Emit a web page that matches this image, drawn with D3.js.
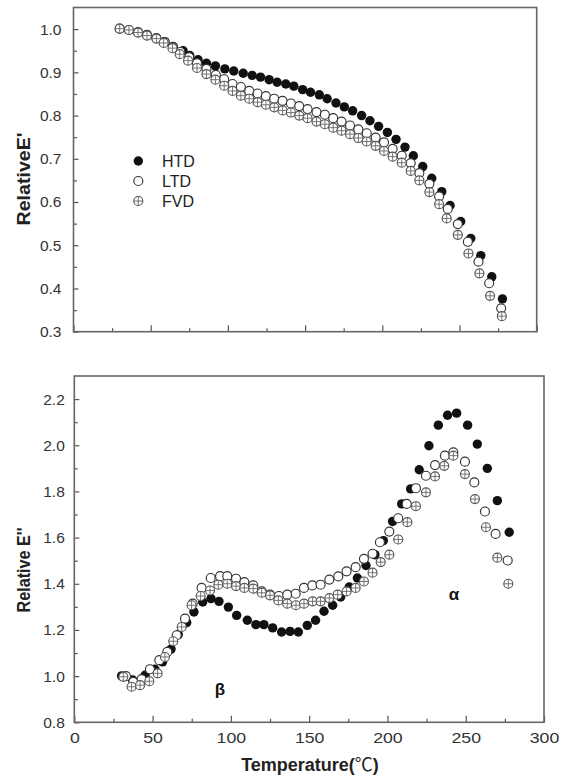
<!DOCTYPE html>
<html><head><meta charset="utf-8">
<script src="https://cdn.jsdelivr.net/npm/d3@7/dist/d3.min.js"></script>
<style>body{margin:0;background:#fff}</style>
</head><body>
<svg id="c" width="565" height="781"></svg>
<script>
// ---------- DATA: top panel (Relative E') ----------
const htdTopT = [29.9,35.9,41.8,47.6,53.7,59.1,64.5,71.0,75.3,80.7,86.1,91.9,98.0,103.8,109.9,115.7,121.1,126.7,131.9,137.5,142.7,148.4,153.5,159.2,164.3,170.0,175.4,180.8,186.6,192.0,197.6,203.3,208.9,214.7,220.1,226.2,232.0,238.5,243.9,250.8,257.3,263.8,270.9,277.8];
const htdTopE = [1.001,0.998,0.993,0.987,0.979,0.971,0.960,0.950,0.939,0.929,0.921,0.915,0.908,0.903,0.898,0.893,0.889,0.883,0.877,0.873,0.868,0.860,0.854,0.848,0.839,0.829,0.820,0.811,0.800,0.788,0.775,0.761,0.745,0.727,0.707,0.682,0.655,0.624,0.592,0.555,0.516,0.476,0.427,0.376];
const ltdTopT = [29.9,35.9,41.8,47.6,53.7,59.1,64.5,69.2,74.9,80.0,86.1,92.2,97.6,103.0,108.4,113.8,119.2,124.6,130.0,135.4,140.8,146.2,151.6,157.4,162.8,168.2,173.6,179.1,184.5,189.9,195.7,201.1,206.7,212.6,218.4,224.0,230.5,236.8,242.4,248.9,255.4,262.3,269.2,277.0];
const ltdTopE = [1.001,0.998,0.993,0.987,0.979,0.970,0.958,0.947,0.935,0.921,0.908,0.894,0.884,0.873,0.866,0.857,0.851,0.845,0.839,0.834,0.828,0.822,0.815,0.808,0.802,0.794,0.786,0.777,0.768,0.759,0.749,0.738,0.723,0.707,0.690,0.667,0.642,0.613,0.584,0.549,0.508,0.462,0.412,0.354];
const fvdTopT = [29.9,35.9,41.8,47.6,53.7,58.4,64.1,68.8,74.2,80.0,86.1,91.9,97.6,103.0,108.4,113.8,119.2,124.6,130.0,135.4,140.8,146.2,151.6,157.4,162.8,168.2,173.6,179.1,184.5,189.9,195.7,201.1,206.7,212.6,218.4,224.0,230.5,236.8,241.7,248.9,255.8,262.9,269.8,277.4];
const fvdTopE = [1.001,0.998,0.992,0.985,0.978,0.968,0.956,0.942,0.927,0.910,0.896,0.883,0.869,0.857,0.846,0.839,0.831,0.825,0.819,0.812,0.807,0.800,0.794,0.786,0.780,0.772,0.765,0.757,0.748,0.740,0.730,0.718,0.705,0.691,0.672,0.650,0.623,0.595,0.562,0.524,0.481,0.435,0.383,0.336];

// ---------- DATA: bottom panel (Relative E'') ----------
const htdBotT = [30.2,37.3,45.2,51.5,56.4,61.8,66.4,71.8,76.4,82.0,87.3,92.4,98.4,103.7,110.5,116.0,121.1,126.7,132.4,137.8,143.1,148.8,154.1,159.5,165.0,170.1,175.6,180.8,186.3,192.0,197.4,203.3,209.1,214.8,220.3,226.5,232.5,238.4,244.2,251.2,257.4,263.8,270.2,277.8];
const htdBotE = [1.001,0.983,1.004,1.030,1.062,1.117,1.180,1.232,1.278,1.321,1.336,1.324,1.299,1.263,1.242,1.223,1.223,1.209,1.191,1.194,1.191,1.220,1.242,1.281,1.307,1.343,1.386,1.425,1.479,1.526,1.587,1.670,1.746,1.811,1.894,1.998,2.087,2.130,2.139,2.087,2.005,1.900,1.760,1.623];
const ltdBotT = [33.0,37.7,43.0,48.3,54.3,59.4,65.4,70.7,75.6,81.3,87.1,93.1,97.7,103.3,108.6,114.3,119.7,125.0,130.7,136.0,141.4,146.7,152.0,157.3,162.9,168.6,173.9,179.7,185.0,190.5,195.2,201.2,206.9,212.3,218.2,224.6,230.4,236.7,242.1,249.5,255.5,262.3,269.1,276.8];
const ltdBotE = [1.000,0.975,0.987,1.030,1.069,1.105,1.177,1.249,1.314,1.382,1.425,1.433,1.433,1.422,1.407,1.393,1.367,1.353,1.347,1.353,1.357,1.382,1.393,1.396,1.418,1.432,1.454,1.472,1.508,1.530,1.580,1.626,1.684,1.746,1.814,1.868,1.914,1.955,1.969,1.929,1.839,1.713,1.616,1.501];
const fvdBotT = [31.3,36.6,42.0,47.9,53.2,57.9,63.2,68.6,74.9,80.7,86.7,92.0,97.7,103.3,108.6,114.3,119.7,125.0,130.3,136.0,141.6,146.7,152.2,157.3,162.9,168.2,173.9,179.7,185.0,190.5,195.7,201.2,206.9,212.7,218.2,224.6,230.4,236.3,242.1,249.5,255.9,262.9,270.2,277.2];
const fvdBotE = [0.997,0.954,0.961,0.978,1.012,1.083,1.151,1.213,1.307,1.347,1.371,1.396,1.400,1.390,1.382,1.379,1.361,1.350,1.328,1.314,1.307,1.314,1.324,1.324,1.338,1.353,1.367,1.382,1.410,1.448,1.494,1.526,1.592,1.667,1.736,1.796,1.865,1.911,1.955,1.875,1.767,1.645,1.513,1.400];

// ---------- tick labels / categories ----------
const seriesNames = ["HTD","LTD","FVD"];
const xTicks = [0,50,100,150,200,250,300];
const xMinorTicks = [25,75,125,175,225,275];
const yTicksTop = [0.3,0.4,0.5,0.6,0.7,0.8,0.9,1.0];
const yMinorTop = [0.35,0.45,0.55,0.65,0.75,0.85,0.95];
const yTicksBot = [0.8,1.0,1.2,1.4,1.6,1.8,2.0,2.2];
const yMinorBot = [0.9,1.1,1.3,1.5,1.7,1.9,2.1];
const annotations = [{t:"β", x:93, y:0.918},{t:"α", x:242.5, y:1.328}];

const FONT = "'Liberation Sans', Arial, Helvetica, sans-serif";
const svg = d3.select('#c');
svg.append('rect').attr('width',565).attr('height',781).attr('fill','#fff');

function zip(T,E){ return T.map((t,i)=>({x:t,y:E[i]})); }

function drawMarker(g, type, cx, cy){
  const r = 4.5;
  if(type==="HTD"){
    g.append('circle').attr('cx',cx).attr('cy',cy).attr('r',4.7).attr('fill','#111');
  } else if(type==="LTD"){
    g.append('circle').attr('cx',cx).attr('cy',cy).attr('r',r).attr('fill','#fff').attr('stroke','#333').attr('stroke-width',1.15);
  } else {
    g.append('circle').attr('cx',cx).attr('cy',cy).attr('r',r).attr('fill','#fff').attr('stroke','#555').attr('stroke-width',1.15);
    g.append('line').attr('x1',cx-r).attr('x2',cx+r).attr('y1',cy).attr('y2',cy).attr('stroke','#666').attr('stroke-width',0.9);
    g.append('line').attr('x1',cx).attr('x2',cx).attr('y1',cy-r).attr('y2',cy+r).attr('stroke','#666').attr('stroke-width',0.9);
  }
}

function panel(cfg){
  const x = d3.scaleLinear().domain([0,300]).range([cfg.left,cfg.right]);
  const y = d3.scaleLinear().domain(cfg.ydom).range([cfg.bottom,cfg.top]);
  const g = svg.append('g');

  const xa = d3.axisBottom(x).tickValues(xTicks).tickSize(-6.5).tickPadding(10)
      .tickFormat(cfg.xLabels ? d3.format('d') : '');
  const xg = g.append('g').attr('transform',`translate(0,${cfg.bottom})`).call(xa);
  const xm = g.append('g').attr('transform',`translate(0,${cfg.bottom})`)
      .call(d3.axisBottom(x).tickValues(xMinorTicks).tickSize(-3.5).tickFormat(''));
  const ya = d3.axisLeft(y).tickValues(cfg.yTicks).tickSize(-5).tickPadding(cfg.ypad).tickFormat(d3.format('.1f'));
  const yg = g.append('g').attr('transform',`translate(${cfg.left},0)`).call(ya);
  const ym = g.append('g').attr('transform',`translate(${cfg.left},0)`)
      .call(d3.axisLeft(y).tickValues(cfg.yMinor).tickSize(-3.5).tickFormat(''));
  [xg,xm,yg,ym].forEach(a=>{
    a.select('.domain').remove();
    a.selectAll('line').attr('stroke','#555').attr('stroke-width',1.2);
  });
  xg.selectAll('text').attr('font-family',FONT).attr('font-size',15).attr('fill','#333')
    .attr('transform','scale(1.18,1)');
  yg.selectAll('text').attr('font-family',FONT).attr('font-size',15.5).attr('fill','#333');

  g.append('rect').attr('x',cfg.left).attr('y',cfg.top)
    .attr('width',cfg.right-cfg.left).attr('height',cfg.bottom-cfg.top)
    .attr('fill','none').attr('stroke','#666').attr('stroke-width',1.6);

  const marks = g.append('g');
  cfg.series.forEach(s=>{
    s.data.forEach(d=> drawMarker(marks, s.name, x(d.x), y(d.y)));
  });

  g.append('text').attr('transform',`translate(${cfg.ytx},${cfg.yty}) rotate(-90)`)
    .attr('text-anchor','middle').attr('dominant-baseline','central')
    .attr('font-family',FONT).attr('font-weight','bold').attr('font-size',18).attr('fill','#222')
    .attr('textLength',cfg.ytLen).attr('lengthAdjust','spacingAndGlyphs')
    .text(cfg.ytitle);
  return {x,y,g};
}

const topPanel = panel({
  left:73.5, right:536.7, top:7.5, bottom:331.7, ydom:[0.3,1.05],
  yTicks:yTicksTop, yMinor:yMinorTop, ypad:12, xLabels:false,
  ytitle:"RelativeE'", ytx:24, yty:179, ytLen:93,
  series:[{name:"HTD",data:zip(htdTopT,htdTopE)},{name:"LTD",data:zip(ltdTopT,ltdTopE)},{name:"FVD",data:zip(fvdTopT,fvdTopE)}]
});
const botPanel = panel({
  left:74.3, right:544, top:376, bottom:722.3, ydom:[0.8,2.3],
  yTicks:yTicksBot, yMinor:yMinorBot, ypad:9.5, xLabels:true,
  ytitle:"Relative E''", ytx:24, yty:570, ytLen:85,
  series:[{name:"HTD",data:zip(htdBotT,htdBotE)},{name:"LTD",data:zip(ltdBotT,ltdBotE)},{name:"FVD",data:zip(fvdBotT,fvdBotE)}]
});

const lg = svg.append('g');
seriesNames.forEach((n,i)=>{
  drawMarker(lg, n, 138.3, 161 + i*20);
  lg.append('text').attr('x',162).attr('y',166.7 + i*20)
    .attr('font-family',FONT).attr('font-size',16).attr('fill','#222').text(n);
});

annotations.forEach(a=>{
  botPanel.g.append('text').attr('x',botPanel.x(a.x)).attr('y',botPanel.y(a.y))
    .attr('text-anchor','middle').attr('font-family',FONT).attr('font-weight','bold')
    .attr('font-size',17).attr('fill','#111').text(a.t);
});

const xt = svg.append('text').attr('x',310).attr('y',771).attr('text-anchor','middle')
  .attr('font-family',FONT).attr('font-weight','bold').attr('font-size',18).attr('fill','#222');
xt.append('tspan').text('Temperature(');
xt.append('tspan').attr('font-family',"'Noto Sans CJK SC', sans-serif").attr('font-weight','normal').text('℃');
xt.append('tspan').text(')');
</script>
</body></html>
